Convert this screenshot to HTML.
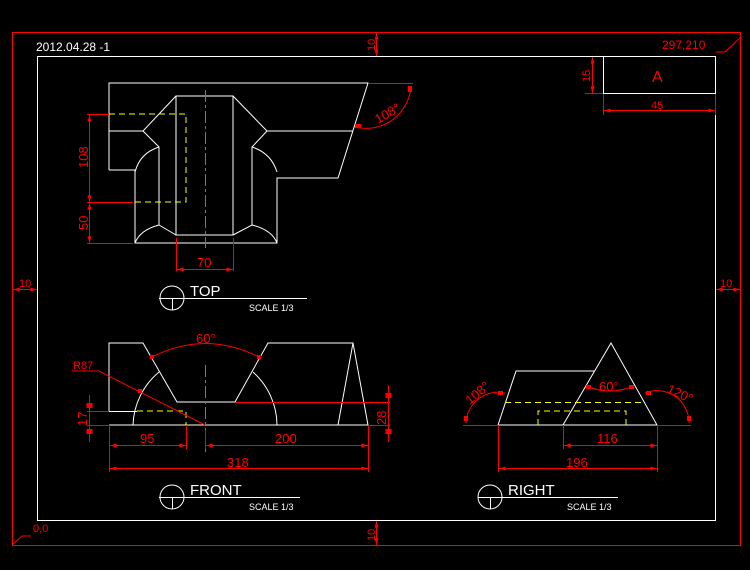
<!DOCTYPE html>
<html><head><meta charset="utf-8"><style>
html,body{margin:0;padding:0;background:#000;}
svg{display:block;}
text{font-family:"Liberation Sans",sans-serif;}
</style></head><body>
<svg width="750" height="570" viewBox="0 0 750 570" xmlns="http://www.w3.org/2000/svg">
<defs>
<marker id="a" viewBox="0 0 10 6" refX="10" refY="3" markerWidth="7" markerHeight="4" orient="auto-start-reverse" markerUnits="userSpaceOnUse">
<path d="M10,3 L0,0 L0,6 Z" fill="#f00"/>
</marker>
</defs>
<rect width="750" height="570" fill="#000"/>
<rect x="12.5" y="32.5" width="728" height="513" fill="none" stroke="#f00" stroke-width="1"/>
<rect x="37.5" y="56.5" width="678" height="464" fill="none" stroke="#fff" stroke-width="1"/>
<g fill="none" stroke="#f00" stroke-width="1">
 <line x1="376.5" y1="33" x2="376.5" y2="56" marker-start="url(#a)" marker-end="url(#a)"/>
 <line x1="376.5" y1="521" x2="376.5" y2="545" marker-start="url(#a)" marker-end="url(#a)"/>
 <line x1="13" y1="289.5" x2="37" y2="289.5" marker-start="url(#a)" marker-end="url(#a)"/>
 <line x1="716" y1="289.5" x2="740" y2="289.5" marker-start="url(#a)" marker-end="url(#a)"/>
 <polyline points="12,545 22,536 31,536"/>
 <polyline points="740,38 725,52 716,52"/>
 <line x1="592.5" y1="57" x2="592.5" y2="93" marker-start="url(#a)" marker-end="url(#a)"/>
 <line x1="585" y1="93.5" x2="603" y2="93.5"/>
 <line x1="603.5" y1="93" x2="603.5" y2="115"/>
 <line x1="715.5" y1="93" x2="715.5" y2="115"/>
 <line x1="604" y1="110.5" x2="715" y2="110.5" marker-start="url(#a)" marker-end="url(#a)"/>
</g>
<g fill="#f00" font-size="11">
 <text transform="translate(375,51) rotate(-90)">10</text>
 <text transform="translate(375,541) rotate(-90)">10</text>
 <text x="19" y="287">10</text>
 <text x="720" y="287">10</text>
 <text x="33" y="532">0,0</text>
 <text x="662" y="49" font-size="12">297,210</text>
 <text transform="translate(590,82) rotate(-90)">15</text>
 <text x="651" y="109">45</text>
 <text x="652" y="82" font-size="16">A</text>
</g>
<rect x="603.5" y="56.5" width="112" height="37" fill="none" stroke="#fff"/>
<text x="36" y="51" fill="#fff" font-size="12">2012.04.28 -1</text>

<!-- TOP VIEW -->
<g fill="none" stroke="#fff" stroke-width="1">
 <polyline points="109,170 109,83 368,83 338,178 277,178 277,243 135,243 135,170 109,170"/>
 <rect x="176" y="96" width="57" height="139"/>
 <polyline points="176,96 143,131 109,131"/>
 <polyline points="143,131 159,147 159,225"/>
 <polyline points="233,96 267,131 353,131"/>
 <polyline points="267,131 252,147 252,225"/>
 <path d="M159,147 Q140,153 135,172"/>
 <path d="M252,147 Q271,153 277,172"/>
 <path d="M135,243 Q140,230 159,225 L176,235"/>
 <path d="M277,243 Q272,230 252,225 L233,235"/>
</g>
<line x1="205.5" y1="90" x2="205.5" y2="248" stroke="#0c0" stroke-dasharray="12,3,3,3"/>
<polyline points="109,114 186,114 186,202 135,202" fill="none" stroke="#ff0" stroke-dasharray="6,4"/>
<g fill="none" stroke="#f00">
 <line x1="87" y1="114.5" x2="109" y2="114.5"/>
 <line x1="87" y1="202.5" x2="133" y2="202.5"/>
 <line x1="87" y1="243.5" x2="133" y2="243.5"/>
 <line x1="89.5" y1="115" x2="89.5" y2="202" marker-start="url(#a)" marker-end="url(#a)"/>
 <line x1="89.5" y1="203" x2="89.5" y2="243" marker-start="url(#a)" marker-end="url(#a)"/>
 <line x1="176.5" y1="238" x2="176.5" y2="271"/>
 <line x1="233.5" y1="238" x2="233.5" y2="271"/>
 <line x1="177" y1="269.5" x2="233" y2="269.5" marker-start="url(#a)" marker-end="url(#a)"/>
 <line x1="369" y1="83.5" x2="413" y2="83.5"/>
 <path d="M411,86 A45,45 0 0 1 355,127"/>
</g>
<g fill="#f00">
 <rect x="408" y="86" width="4" height="6"/><rect x="355" y="124" width="6" height="4"/>
</g>
<g fill="#f00" font-size="13">
 <text transform="translate(88,168) rotate(-90)">108</text>
 <text transform="translate(88,230) rotate(-90)">50</text>
 <text x="197" y="267">70</text>
 <text transform="translate(378,124) rotate(-30)">108°</text>
</g>

<!-- FRONT VIEW -->
<g fill="none" stroke="#fff">
 <polyline points="109,411 109,343 143,343 177,402 235,402 268,343 353,343 368,425 109,425"/>
 <polyline points="353,343 338,425"/>
 <line x1="109" y1="411.5" x2="137" y2="411.5"/>
 <path d="M133,425 A72,72 0 0 1 159,372"/>
 <path d="M253,372 A72,72 0 0 1 277,425"/>
</g>
<polyline points="137,411 186,411 186,425" fill="none" stroke="#ff0" stroke-dasharray="6,4"/>
<line x1="205.5" y1="365" x2="205.5" y2="452" stroke="#0c0" stroke-dasharray="12,3,3,3"/>
<g fill="none" stroke="#f00">
 <line x1="235" y1="402.5" x2="390" y2="402.5"/>
 <line x1="368" y1="425.5" x2="390" y2="425.5"/>
 <line x1="388.5" y1="385" x2="388.5" y2="442"/>
 <line x1="87" y1="411.5" x2="109" y2="411.5"/>
 <line x1="87" y1="425.5" x2="109" y2="425.5"/>
 <line x1="89.5" y1="395" x2="89.5" y2="442"/>
 <polyline points="72,371 99,371 205,425"/>
 <path d="M152,357 Q205,330 259,357"/>
 <line x1="109.5" y1="425" x2="109.5" y2="472"/>
 <line x1="186.5" y1="425" x2="186.5" y2="449"/>
 <line x1="205.5" y1="430" x2="205.5" y2="449"/>
 <line x1="368.5" y1="425" x2="368.5" y2="472"/>
 <line x1="110" y1="445.5" x2="186" y2="445.5" marker-start="url(#a)" marker-end="url(#a)"/>
 <line x1="206" y1="445.5" x2="368" y2="445.5" marker-start="url(#a)" marker-end="url(#a)"/>
 <line x1="110" y1="468.5" x2="368" y2="468.5" marker-start="url(#a)" marker-end="url(#a)"/>
</g>
<g fill="#f00">
 <rect x="86.5" y="403" width="6" height="5"/><rect x="86.5" y="429" width="6" height="5"/>
 <rect x="385.5" y="393" width="6" height="5"/><rect x="385.5" y="429" width="6" height="5"/>
 <rect x="150" y="355" width="4" height="4"/><rect x="257" y="355" width="4" height="4"/>
 <rect x="138" y="389" width="4" height="4"/>
</g>
<g fill="#f00" font-size="13">
 <text x="196" y="343">60°</text>
 <text x="73" y="369" font-size="11">R87</text>
 <text transform="translate(386,425) rotate(-90)">28</text>
 <text transform="translate(87,426) rotate(-90)">17</text>
 <text x="140" y="443">95</text>
 <text x="275" y="443">200</text>
 <text x="227" y="467">318</text>
</g>

<!-- RIGHT VIEW -->
<g fill="none" stroke="#fff">
 <polyline points="498,425 516,371 594,371"/>
 <polyline points="563,425 611,343 657,425 498,425"/>
</g>
<g fill="none" stroke="#ff0" stroke-dasharray="6,4">
 <line x1="505" y1="402.5" x2="644" y2="402.5"/>
 <polyline points="538,425 538,411 626,411 626,425"/>
</g>
<g fill="none" stroke="#f00">
 <line x1="463" y1="425.5" x2="498" y2="425.5"/>
 <line x1="657" y1="425.5" x2="691" y2="425.5"/>
 <path d="M466,423 A32,32 0 0 1 505,393"/>
 <path d="M645,393 A32,32 0 0 1 689,423"/>
 <path d="M586,386 Q610,396 634,386"/>
 <line x1="498.5" y1="425" x2="498.5" y2="472"/>
 <line x1="563.5" y1="425" x2="563.5" y2="449"/>
 <line x1="657.5" y1="425" x2="657.5" y2="472"/>
 <line x1="564" y1="445.5" x2="657" y2="445.5" marker-start="url(#a)" marker-end="url(#a)"/>
 <line x1="499" y1="468.5" x2="657" y2="468.5" marker-start="url(#a)" marker-end="url(#a)"/>
</g>
<g fill="#f00">
 <rect x="464" y="416" width="4" height="5"/><rect x="498" y="391" width="5" height="4"/>
 <rect x="646" y="391" width="5" height="4"/><rect x="687" y="416" width="4" height="5"/>
 <rect x="586" y="385" width="5" height="4"/><rect x="629" y="385" width="5" height="4"/>
</g>
<g fill="#f00" font-size="13">
 <text transform="translate(470,405) rotate(-40)">108°</text>
 <text transform="translate(666,392) rotate(25)">120°</text>
 <text x="599" y="391">60°</text>
 <text x="597" y="443">116</text>
 <text x="566" y="467">196</text>
</g>

<!-- view labels -->
<g fill="none" stroke="#fff">
 <ellipse cx="172" cy="298" rx="12" ry="12"/>
 <line x1="159" y1="298.5" x2="307" y2="298.5"/>
 <line x1="172.5" y1="298" x2="172.5" y2="310"/>
 <ellipse cx="172" cy="497" rx="12" ry="12"/>
 <line x1="159" y1="497.5" x2="300" y2="497.5"/>
 <line x1="172.5" y1="497" x2="172.5" y2="509"/>
 <ellipse cx="490" cy="497" rx="12" ry="12"/>
 <line x1="478" y1="497.5" x2="618" y2="497.5"/>
 <line x1="490.5" y1="497" x2="490.5" y2="509"/>
</g>
<g fill="#fff">
 <text x="190" y="296" font-size="15">TOP</text>
 <text x="249" y="311" font-size="9">SCALE 1/3</text>
 <text x="190" y="495" font-size="15">FRONT</text>
 <text x="249" y="510" font-size="9">SCALE 1/3</text>
 <text x="508" y="495" font-size="15">RIGHT</text>
 <text x="567" y="510" font-size="9">SCALE 1/3</text>
</g>
</svg>
</body></html>
